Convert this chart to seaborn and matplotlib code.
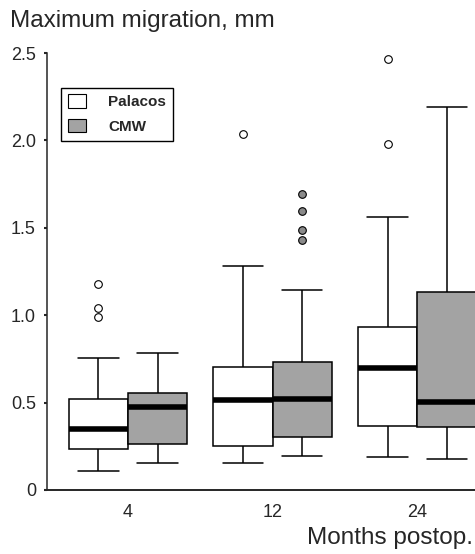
import pandas as pd
import numpy as np
import matplotlib
matplotlib.use('Agg')
import matplotlib.pyplot as plt
from matplotlib.patches import Patch
import seaborn as sns


#Values (mm).
months = ['4', '12', '24']
cements = ['Palacos', 'CMW']
# whisker low, Q1, median, Q3, whisker high
palacos_stats = [[0.110, 0.233, 0.347, 0.523, 0.754],
                 [0.152, 0.250, 0.515, 0.706, 1.282],
                 [0.189, 0.367, 0.700, 0.932, 1.559]]
cmw_stats = [[0.155, 0.265, 0.473, 0.555, 0.786],
             [0.193, 0.303, 0.523, 0.731, 1.146],
             [0.176, 0.360, 0.502, 1.133, 2.191]]
palacos_outliers = [[0.99, 1.04, 1.176], [2.036], [1.979, 2.466]]
cmw_outliers = [[], [1.43, 1.487, 1.595, 1.695], []]
colors = {'Palacos': 'white', 'CMW': '#a3a3a3'}


#Rebuild a sample with exactly these quartiles (n = 4m+1 points).
def rebuild(stats, outliers, m=5):
    lo, q1, med, q3, hi = stats
    k = len(outliers)
    return [lo] + [q1] * m + [med] * m + [q3] * m + [q3] * (m - 1 - k) + [hi] + list(outliers)


rows = []
for i, month in enumerate(months):
    for cement, stats, outs in [('Palacos', palacos_stats, palacos_outliers),
                                ('CMW', cmw_stats, cmw_outliers)]:
        for v in rebuild(stats[i], outs[i]):
            rows.append({'month': month, 'cement': cement, 'value': v})
df = pd.DataFrame(rows)


sns.set_style('ticks')
plt.rcParams['font.family'] = ['Liberation Sans', 'DejaVu Sans']

fig = plt.figure(figsize=(4.75, 5.54), dpi=100)
ax = fig.add_axes([47 / 475, 64 / 554, 1 - 47 / 475, 437 / 554])

sns.boxplot(data=df, x='month', y='value', hue='cement', order=months, hue_order=cements,
            palette=colors, linecolor='black', linewidth=1.1, width=0.82, gap=0,
            whis=1.5, legend=False, ax=ax, capwidths=0.28,
            medianprops={'linewidth': 4, 'color': 'black', 'solid_capstyle': 'butt'},
            flierprops={'marker': 'o', 'markersize': 5.5, 'markerfacecolor': 'none',
                        'markeredgecolor': 'black', 'markeredgewidth': 0.8})

# CMW outliers are filled grey
for line in ax.containers[1].fliers:
    line.set_markerfacecolor('#8a8a8a')

ax.set_xlim(-0.56, 2.40)
ax.set_ylim(0, 2.5)
ax.set_yticks([0, 0.5, 1.0, 1.5, 2.0, 2.5])
ax.set_yticklabels(['0', '0.5', '1.0', '1.5', '2.0', '2.5'])
ax.tick_params(axis='y', length=2, width=1.5, pad=6, labelsize=13)
ax.tick_params(axis='x', length=0, pad=10, labelsize=13)
ax.set_xlabel('')
ax.set_ylabel('')
for side in ['top', 'right']:
    ax.spines[side].set_visible(False)
ax.spines['left'].set_linewidth(1.1)
ax.spines['bottom'].set_linewidth(1.4)
ax.patch.set_alpha(0)

handles = [Patch(facecolor=colors[c], edgecolor='black', linewidth=0.8, label=c) for c in cements]
leg = ax.legend(handles=handles, loc='upper left', bbox_to_anchor=(0.032, 0.921),
                borderaxespad=0, fancybox=False, edgecolor='black', framealpha=1,
                handlelength=1.2, handleheight=1.0, handletextpad=1.45, borderpad=0.45,
                labelspacing=0.6, prop={'weight': 'bold', 'size': 11})
leg.get_frame().set_linewidth(1.0)

fig.text(10 / 475, 1 - 10 / 554, 'Maximum migration, mm', ha='left', va='top', fontsize=17.5)
fig.text(1 - 2 / 475, 5 / 554, 'Months postop.', ha='right', va='bottom', fontsize=17.5)

fig.savefig('out.png', dpi=100)
